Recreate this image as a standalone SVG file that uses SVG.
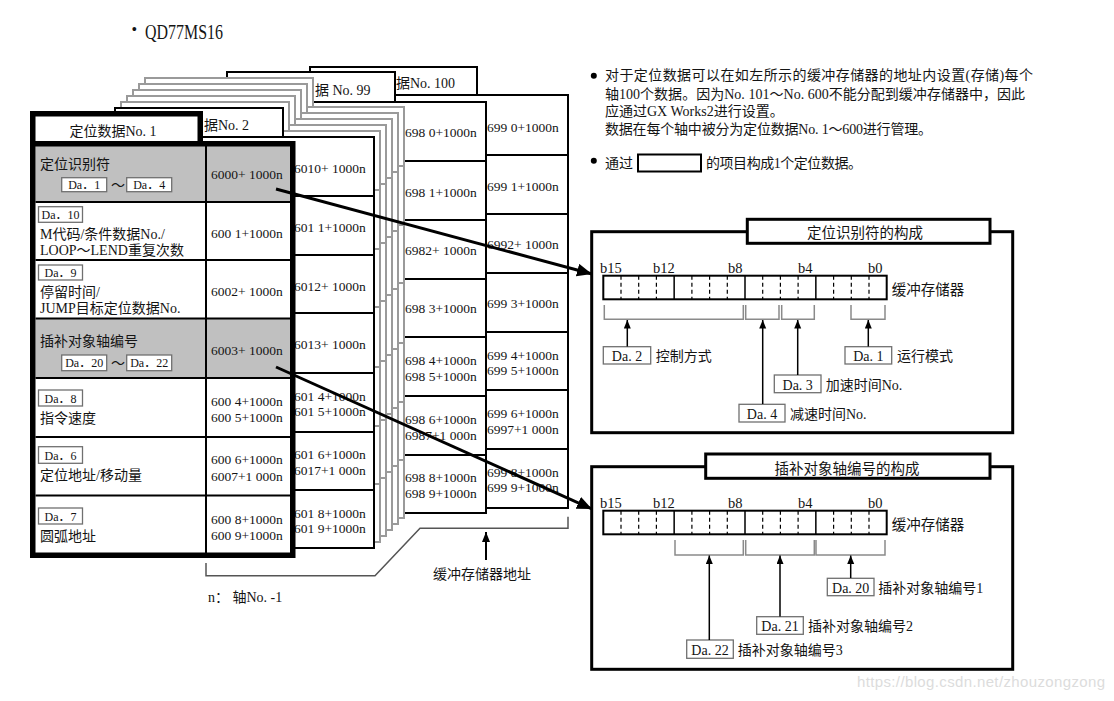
<svg xmlns="http://www.w3.org/2000/svg" width="1114" height="701" viewBox="0 0 1114 701">
<defs>
<style>
text{font-family:"Liberation Serif","Noto Sans CJK SC",serif;fill:#141414}
.c14{font-size:14px}
.num{font-size:13.5px}
.lb{font-size:12px;text-anchor:middle}
.lb2{font-size:14px;text-anchor:middle}
.card{fill:#fff;stroke:#000;stroke-width:2}
.ghost{fill:#fff;stroke:#9a9a9a;stroke-width:2}
.rl{stroke:#000;stroke-width:2;fill:none}
.gl{stroke:#9a9a9a;stroke-width:2;fill:none}
.box{fill:#fff;stroke:#707070;stroke-width:1.3}
.brk{fill:none;stroke:#8a8a8a;stroke-width:1.5}
.sa{fill:none;stroke:#000;stroke-width:1.5;marker-end:url(#sm)}
.big{fill:none;stroke:#000;stroke-width:3;marker-end:url(#bg)}
.reg{fill:#fff;stroke:#000;stroke-width:2}
.sol{stroke:#000;stroke-width:1.5;fill:none}
.dsh{stroke:#000;stroke-width:1.2;stroke-dasharray:4 3;fill:none}
.frame{fill:#fff;stroke:#000;stroke-width:3}
</style>
<marker id="bg" markerUnits="userSpaceOnUse" markerWidth="16" markerHeight="14" refX="15" refY="6.5" orient="auto"><path d="M0,0 L15,6.5 L0,13 Z" fill="#000"/></marker>
<marker id="sm" markerUnits="userSpaceOnUse" markerWidth="9" markerHeight="8" refX="8.5" refY="3.5" orient="auto"><path d="M0,0 L8.5,3.5 L0,7 Z" fill="#000"/></marker>
<marker id="md" markerUnits="userSpaceOnUse" markerWidth="11" markerHeight="9" refX="10" refY="4" orient="auto"><path d="M0,0 L10,4 L0,8 Z" fill="#000"/></marker>
</defs>
<rect width="1114" height="701" fill="#fff"/>

<g id="title">
<text x="131.5" y="35" style="font-size:16px">•</text>
<text x="145" y="39" style="font-size:22px" textLength="78" lengthAdjust="spacingAndGlyphs">QD77MS16</text>
</g>

<g id="card100">
<rect class="card" x="310" y="67" width="167" height="28"/>
<rect class="card" x="310" y="95" width="258" height="413"/>
<path class="rl" d="M310,155H568M310,214H568M310,273H568M310,332H568M310,390H568M310,449H568"/>
<text class="c14" x="396" y="88">据No. 100</text>
<g class="num">
<text x="487" y="132">699 0+1000n</text>
<text x="487" y="191">699 1+1000n</text>
<text x="487" y="249">6992+ 1000n</text>
<text x="487" y="308">699 3+1000n</text>
<text x="487" y="359.5">699 4+1000n</text>
<text x="487" y="375">699 5+1000n</text>
<text x="487" y="418">699 6+1000n</text>
<text x="487" y="434">6997+1 000n</text>
<text x="487" y="477">699 8+1000n</text>
<text x="487" y="492">699 9+1000n</text>
</g>
</g>

<g id="card99">
<rect class="card" x="227" y="72" width="168" height="30"/>
<rect class="card" x="227" y="102" width="259" height="411"/>
<path class="rl" d="M227,161H486M227,220H486M227,279H486M227,337H486M227,396H486M227,455H486"/>
<text class="c14" x="315" y="95">据 No. 99</text>
<g class="num">
<text x="405" y="137">698 0+1000n</text>
<text x="405" y="197">698 1+1000n</text>
<text x="405" y="255">6982+ 1000n</text>
<text x="405" y="313">698 3+1000n</text>
<text x="405" y="365">698 4+1000n</text>
<text x="405" y="381">698 5+1000n</text>
<text x="405" y="424">698 6+1000n</text>
<text x="405" y="439.5">6987+1 000n</text>
<text x="405" y="482">698 8+1000n</text>
<text x="405" y="498">698 9+1000n</text>
</g>
</g>

<g id="stack">
<path class="ghost" d="M145,78H313V107H404V518H145Z"/>
<path class="gl" d="M145,107H313M145,166H404M145,225H404M145,283H404M145,343H404M145,402H404M145,460H404"/>
<path class="ghost" d="M139,84H307V113H398V524H139Z"/>
<path class="gl" d="M139,113H307M139,172H398M139,231H398M139,289H398M139,349H398M139,408H398M139,466H398"/>
<path class="ghost" d="M133,90H301V119H392V530H133Z"/>
<path class="gl" d="M133,119H301M133,178H392M133,237H392M133,295H392M133,355H392M133,414H392M133,472H392"/>
<path class="ghost" d="M127,96H295V125H386V536H127Z"/>
<path class="gl" d="M127,125H295M127,184H386M127,243H386M127,301H386M127,361H386M127,420H386M127,478H386"/>
<path class="ghost" d="M121,102H289V131H380V542H121Z"/>
<path class="gl" d="M121,131H289M121,190H380M121,249H380M121,307H380M121,367H380M121,426H380M121,484H380"/>
</g>

<g id="card2">
<path class="card" d="M115,108H283V137H374V548H115Z"/>
<path class="rl" d="M115,137H283M115,196H374M115,255H374M115,313H374M115,373H374M115,432H374M115,490H374"/>
<text class="c14" x="204" y="130">据No. 2</text>
<g class="num">
<text x="294" y="173">6010+ 1000n</text>
<text x="294" y="232">601 1+1000n</text>
<text x="294" y="291">6012+ 1000n</text>
<text x="294" y="349">6013+ 1000n</text>
<text x="294" y="401">601 4+1000n</text>
<text x="294" y="416">601 5+1000n</text>
<text x="294" y="459">601 6+1000n</text>
<text x="294" y="475">6017+1 000n</text>
<text x="294" y="517.5">601 8+1000n</text>
<text x="294" y="533">601 9+1000n</text>
</g>
</g>

<g id="card1">
<rect x="32.75" y="113.75" width="167.5" height="30" fill="#fff" stroke="#000" stroke-width="5.5"/>
<text class="c14" x="113" y="136" text-anchor="middle">定位数据No. 1</text>
<rect x="32.75" y="143.75" width="260" height="411.5" fill="#fff"/>
<rect x="35.5" y="146" width="254.5" height="56" fill="#c0c0c0"/>
<rect x="35.5" y="318.5" width="254.5" height="59.5" fill="#c0c0c0"/>
<path class="rl" d="M35.5,202H290M35.5,260H290M35.5,318.5H290M35.5,378H290M35.5,437H290M35.5,495.5H290M206,146V553"/>
<rect x="32.75" y="143.75" width="260" height="411.5" fill="none" stroke="#000" stroke-width="5.5"/>
<g class="c14">
<text x="40" y="169">定位识别符</text>
<text x="40" y="239">M代码/条件数据No./</text>
<text x="40" y="255">LOOP～LEND重复次数</text>
<text x="40" y="297">停留时间/</text>
<text x="40" y="313">JUMP目标定位数据No.</text>
<text x="40" y="346">插补对象轴编号</text>
<text x="40" y="423">指令速度</text>
<text x="40" y="480">定位地址/移动量</text>
<text x="40" y="541">圆弧地址</text>
<text x="111" y="189.5">～</text>
<text x="111" y="367.5">～</text>
</g>
<rect class="box" x="61.7" y="177.7" width="45" height="14"/>
<rect class="box" x="126.7" y="177.7" width="45" height="14"/>
<rect class="box" x="38.5" y="206.7" width="44" height="15.6"/>
<rect class="box" x="38.5" y="265" width="44" height="15"/>
<rect class="box" x="61.7" y="355" width="45" height="15.7"/>
<rect class="box" x="126.7" y="355" width="45" height="15.7"/>
<rect class="box" x="38.5" y="390" width="44" height="16"/>
<rect class="box" x="38.5" y="446.7" width="44" height="16.6"/>
<rect class="box" x="38.5" y="508" width="44" height="16"/>
<text class="lb" x="84.2" y="189">Da．1</text>
<text class="lb" x="149.2" y="189">Da．4</text>
<text class="lb" x="60.5" y="219">Da．10</text>
<text class="lb" x="60.5" y="277">Da．9</text>
<text class="lb" x="84.2" y="367">Da．20</text>
<text class="lb" x="149.2" y="367">Da．22</text>
<text class="lb" x="60.5" y="402.5">Da．8</text>
<text class="lb" x="60.5" y="459.5">Da．6</text>
<text class="lb" x="60.5" y="520.5">Da．7</text>
<g class="num">
<text x="211" y="179">6000+ 1000n</text>
<text x="211" y="238">600 1+1000n</text>
<text x="211" y="296">6002+ 1000n</text>
<text x="211" y="355">6003+ 1000n</text>
<text x="211" y="406">600 4+1000n</text>
<text x="211" y="422">600 5+1000n</text>
<text x="211" y="464">600 6+1000n</text>
<text x="211" y="481">6007+1 000n</text>
<text x="211" y="524">600 8+1000n</text>
<text x="211" y="540">600 9+1000n</text>
</g>
</g>

<g id="notes">
<circle cx="593.8" cy="75.8" r="3"/>
<text class="c14" x="605" y="80" textLength="428">对于定位数据可以在如左所示的缓冲存储器的地址内设置(存储)每个</text>
<text class="c14" x="605" y="98.5" textLength="420">轴100个数据。因为No. 101～No. 600不能分配到缓冲存储器中，因此</text>
<text class="c14" x="605" y="116">应通过GX Works2进行设置。</text>
<text class="c14" x="605" y="134" textLength="327">数据在每个轴中被分为定位数据No. 1～600进行管理。</text>
<circle cx="593.8" cy="160.8" r="3"/>
<text class="c14" x="605" y="168">通过</text>
<rect x="638" y="154.5" width="63" height="17" fill="none" stroke="#000" stroke-width="2"/>
<text class="c14" x="706" y="168" textLength="156">的项目构成1个定位数据。</text>
<text class="c14" x="433" y="579">缓冲存储器地址</text>
<text class="c14" x="208" y="602">n： 轴No. -1</text>
<text x="857" y="687" style="font-family:'Liberation Sans',sans-serif;font-size:15px;fill:#dcdcdc" textLength="248">https://blog.csdn.net/zhouzongzong</text>
</g>

<g id="panel1">
<rect class="frame" x="591.7" y="231.7" width="421" height="201"/>
<rect class="frame" x="747.3" y="219.3" width="242.7" height="24"/>
<text x="865" y="238" text-anchor="middle" style="font-size:14.5px">定位识别符的构成</text>
<g style="font-size:14.5px">
<text x="600" y="272.5">b15</text><text x="653" y="272.5">b12</text><text x="728" y="272.5">b8</text><text x="798" y="272.5">b4</text><text x="868" y="272.5">b0</text>
<text x="891.7" y="295">缓冲存储器</text>
</g>
<rect class="reg" x="603.3" y="275.7" width="283.4" height="23.6"/>
<path class="dsh" d="M621,275.7V299.3M638.7,275.7V299.3M656.4,275.7V299.3M691.9,275.7V299.3M709.6,275.7V299.3M727.3,275.7V299.3M762.7,275.7V299.3M780.4,275.7V299.3M798.1,275.7V299.3M833.6,275.7V299.3M851.3,275.7V299.3M869,275.7V299.3"/>
<path class="sol" d="M674.15,275.7V299.3M745,275.7V299.3M815.85,275.7V299.3"/>
<rect class="box" x="603.3" y="346.7" width="47.4" height="17.3"/>
<text class="lb2" x="627" y="361">Da. 2</text>
<text class="c14" x="655.7" y="361">控制方式</text>
<rect class="box" x="845" y="346.7" width="46.7" height="17.3"/>
<text class="lb2" x="868.3" y="361">Da. 1</text>
<text class="c14" x="897" y="361">运行模式</text>
<rect class="box" x="774.3" y="375" width="46.7" height="17.7"/>
<text class="lb2" x="797.7" y="389.5">Da. 3</text>
<text class="c14" x="825.7" y="389.5">加速时间No.</text>
<rect class="box" x="739" y="404.3" width="46" height="17.7"/>
<text class="lb2" x="762" y="418.5">Da. 4</text>
<text class="c14" x="790" y="418.5">减速时间No.</text>
</g>

<g id="panel2">
<rect class="frame" x="591.7" y="466.7" width="421" height="202.6"/>
<rect class="frame" x="705.7" y="454" width="284.3" height="24.3"/>
<text x="847" y="473.5" text-anchor="middle" style="font-size:14.5px">插补对象轴编号的构成</text>
<g style="font-size:14.5px">
<text x="600" y="508">b15</text><text x="653" y="508">b12</text><text x="728" y="508">b8</text><text x="798" y="508">b4</text><text x="868" y="508">b0</text>
<text x="891.7" y="529.5">缓冲存储器</text>
</g>
<rect class="reg" x="603.3" y="510.7" width="283.4" height="23.6"/>
<path class="dsh" d="M621,510.7V534.3M638.7,510.7V534.3M656.4,510.7V534.3M691.9,510.7V534.3M709.6,510.7V534.3M727.3,510.7V534.3M762.7,510.7V534.3M780.4,510.7V534.3M798.1,510.7V534.3M833.6,510.7V534.3M851.3,510.7V534.3M869,510.7V534.3"/>
<path class="sol" d="M674.15,510.7V534.3M745,510.7V534.3M815.85,510.7V534.3"/>
<rect class="box" x="827.3" y="578.3" width="46.7" height="17.4"/>
<text class="lb2" x="850.7" y="592.5">Da. 20</text>
<text class="c14" x="878.3" y="593">插补对象轴编号1</text>
<rect class="box" x="756.7" y="616.7" width="46.6" height="17.6"/>
<text class="lb2" x="780" y="631">Da. 21</text>
<text class="c14" x="808" y="631">插补对象轴编号2</text>
<rect class="box" x="686.7" y="640" width="46.6" height="18.3"/>
<text class="lb2" x="710" y="654.5">Da. 22</text>
<text class="c14" x="737.7" y="654.5">插补对象轴编号3</text>
</g>

<g id="connectors">
<path class="big" d="M276,189L592,274"/>
<path class="big" d="M276,367L592,509"/>
<path d="M206,563V575.7H375L420,528.3H568V516.7" fill="none" stroke="#555" stroke-width="1.5"/>
<path d="M486,560V532" fill="none" stroke="#000" stroke-width="2" marker-end="url(#md)"/>
<path class="brk" d="M604.3,305V319.3H743.3V305M745.7,305V319.3H779V305M781.7,305V319.3H814.3V305M851,305V319.3H885V305"/>
<path class="sa" d="M627.3,346.5V320"/>
<path class="sa" d="M762.7,404V320"/>
<path class="sa" d="M797.7,375V320"/>
<path class="sa" d="M868.3,346.5V320"/>
<path class="brk" d="M675,540V555H743.3V540M745.7,540V555H814.3V540M816,540V555H885V540"/>
<path class="sa" d="M709.3,640V555.5"/>
<path class="sa" d="M780,616.5V555.5"/>
<path class="sa" d="M850.7,578V555.5"/>
</g>
</svg>
